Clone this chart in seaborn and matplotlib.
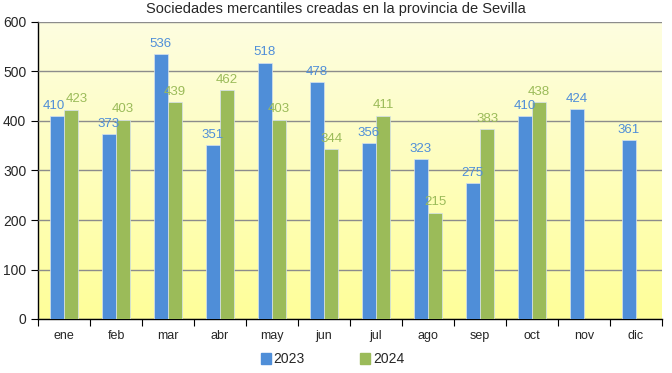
import numpy as np
import pandas as pd
import matplotlib
matplotlib.use("Agg")
import matplotlib.pyplot as plt
import seaborn as sns

meses = ["ene", "feb", "mar", "abr", "may", "jun", "jul", "ago", "sep", "oct", "nov", "dic"]
valores_2023 = [410, 373, 536, 351, 518, 478, 356, 323, 275, 410, 424, 361]
valores_2024 = [423, 403, 439, 462, 403, 344, 411, 215, 383, 438, None, None]
anios = ["2023", "2024"]

color_2023 = "#4f8ed8"
color_2024 = "#9bbb59"

df = pd.DataFrame({
    "mes": meses * 2,
    "anio": [anios[0]] * 12 + [anios[1]] * 12,
    "valor": valores_2023 + valores_2024,
})

sns.set_style("white")
plt.rcParams["font.family"] = ["Liberation Sans", "DejaVu Sans"]

fig = plt.figure(figsize=(6.72, 3.73), dpi=100)
ax = fig.add_axes([38 / 672, 1 - 319 / 373, 624 / 672, 297 / 373])

# fondo degradado amarillo
grad = np.linspace(0, 1, 256).reshape(-1, 1)
cmap = matplotlib.colors.LinearSegmentedColormap.from_list("fondo", ["#ffff99", "#fdfde0"])
ax.imshow(grad, aspect="auto", cmap=cmap, origin="lower",
          extent=[-0.5, 11.5, 0, 600], zorder=0)

sns.barplot(data=df, x="mes", y="valor", hue="anio", palette=[color_2023, color_2024],
            saturation=1, width=0.55, ax=ax, zorder=3, edgecolor="#d6e2f0", linewidth=0.5)

textos = []
for cont, col in zip(ax.containers, [color_2023, color_2024]):
    etiquetas = ["" if np.isnan(b.get_height()) else f"{int(b.get_height())}" for b in cont]
    textos.append(ax.bar_label(cont, labels=etiquetas, color=col, fontsize=9.5, padding=3, zorder=4))

# separar un poco las etiquetas de enero, como en el original
textos[0][0].xyann = (-2, 3)
textos[1][0].xyann = (4, 3)

ax.set_xlim(-0.5, 11.5)
ax.set_ylim(0, 600)
ax.set_yticks(range(0, 601, 100))
ax.yaxis.grid(True, color="#8c8c8c", linewidth=1, zorder=1)
ax.set_axisbelow(False)
ax.set_xlabel("")
ax.set_ylabel("")
for s in ["top", "right"]:
    ax.spines[s].set_visible(False)
for s in ["left", "bottom"]:
    ax.spines[s].set_color("black")
    ax.spines[s].set_linewidth(1)

ax.set_xticks(np.arange(-0.5, 12, 1), minor=False)
ax.set_xticklabels([])
ax.set_xticks(np.arange(0, 12), minor=True)
ax.set_xticklabels(meses, minor=True, fontsize=9)
ax.tick_params(axis="x", which="major", length=5, direction="out", color="black", bottom=True)
ax.tick_params(axis="x", which="minor", length=0, pad=8)
ax.tick_params(axis="y", length=5, direction="out", color="black", left=True, labelsize=10)

ax.legend_.remove()
handles = [plt.Rectangle((0, 0), 1, 1, color=color_2023), plt.Rectangle((0, 0), 1, 1, color=color_2024)]
fig.legend(handles, anios, loc="lower center", bbox_to_anchor=(0.495, -0.015), ncol=2,
           frameon=False, fontsize=10, handlelength=0.7, handleheight=0.9,
           handletextpad=0.2, columnspacing=4)

fig.suptitle("Sociedades mercantiles creadas en la provincia de Sevilla", fontsize=10.5, y=0.995)

fig.savefig("out.png", dpi=100, facecolor="white")
